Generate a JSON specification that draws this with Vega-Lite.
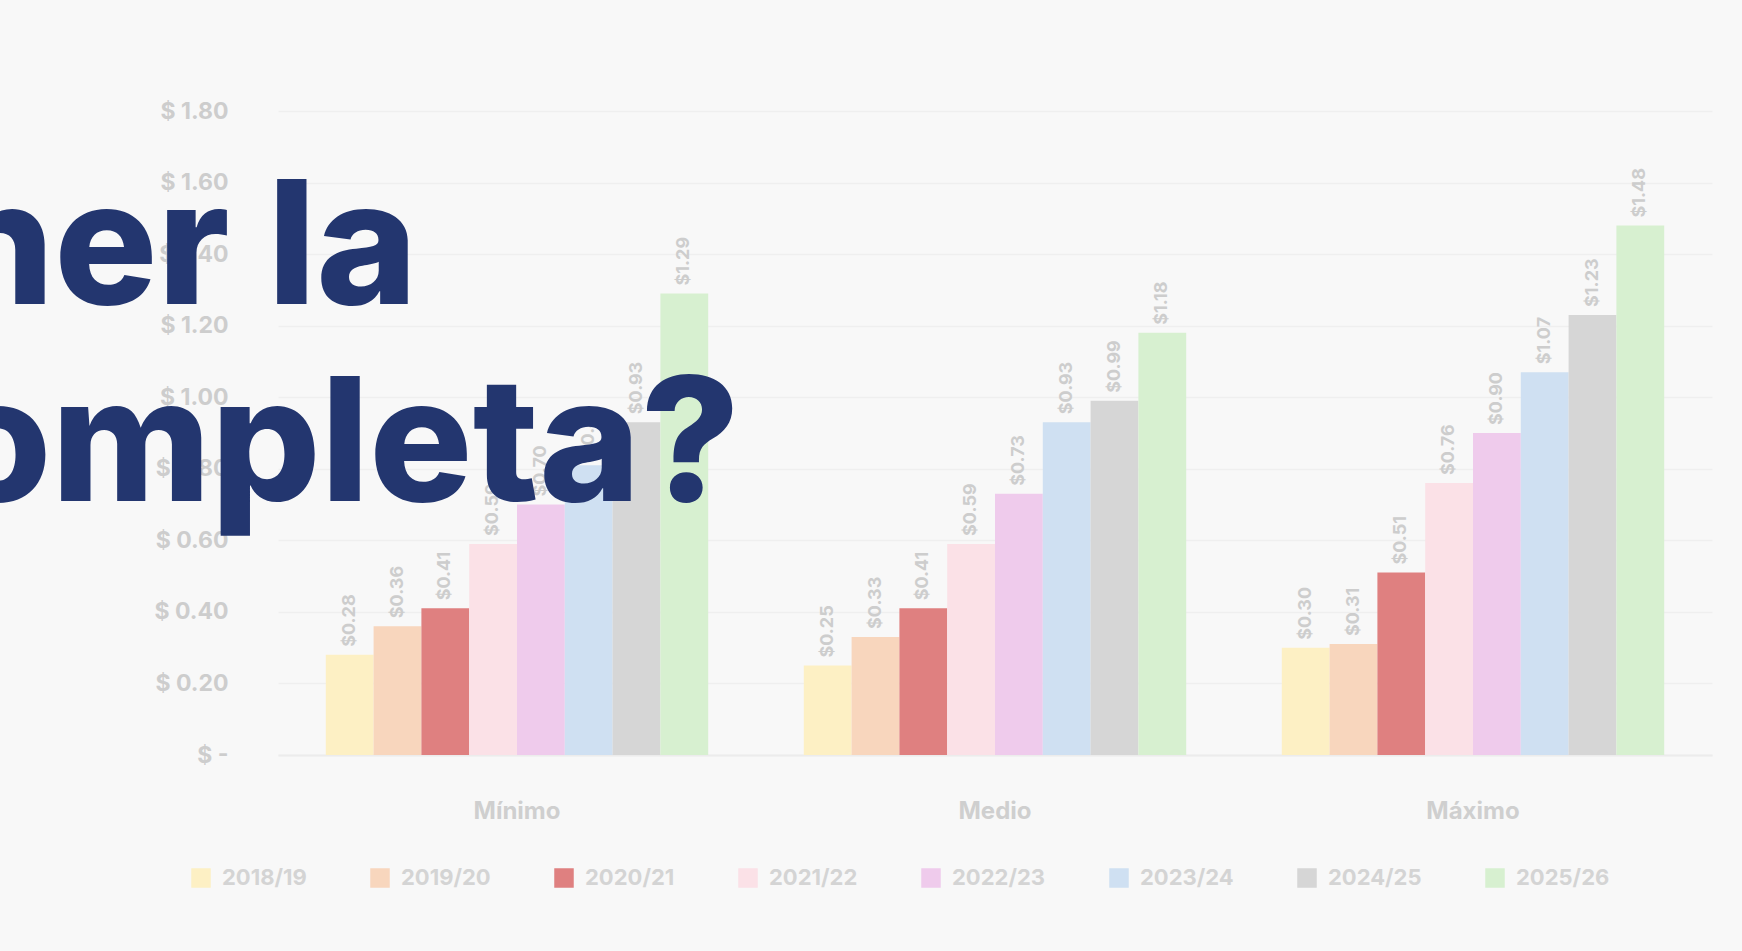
{
  "$schema": "https://vega.github.io/schema/vega-lite/v6.json",
  "width": 1434,
  "height": 644,
  "autosize": {"type": "none"},
  "padding": {"left": 278, "top": 111, "right": 30, "bottom": 196},
  "background": "#f8f8f8",
  "config": {"view": {"stroke": null}},
  "title": {
    "text": ["ner la", "ompleta?"],
    "orient": "top",
    "anchor": "start",
    "frame": "group",
    "offset": 0,
    "dx": -333,
    "dy": 437,
    "font": "Inter",
    "fontSize": 172,
    "fontWeight": 800,
    "lineHeight": 197,
    "color": "#23366f"
  },
  "data": {
    "values": [
      {"grupo": "Mínimo", "serie": "2018/19", "valor": 0.28},
      {"grupo": "Mínimo", "serie": "2019/20", "valor": 0.36},
      {"grupo": "Mínimo", "serie": "2020/21", "valor": 0.41},
      {"grupo": "Mínimo", "serie": "2021/22", "valor": 0.59},
      {"grupo": "Mínimo", "serie": "2022/23", "valor": 0.70},
      {"grupo": "Mínimo", "serie": "2023/24", "valor": 0.81},
      {"grupo": "Mínimo", "serie": "2024/25", "valor": 0.93},
      {"grupo": "Mínimo", "serie": "2025/26", "valor": 1.29},
      {"grupo": "Medio", "serie": "2018/19", "valor": 0.25},
      {"grupo": "Medio", "serie": "2019/20", "valor": 0.33},
      {"grupo": "Medio", "serie": "2020/21", "valor": 0.41},
      {"grupo": "Medio", "serie": "2021/22", "valor": 0.59},
      {"grupo": "Medio", "serie": "2022/23", "valor": 0.73},
      {"grupo": "Medio", "serie": "2023/24", "valor": 0.93},
      {"grupo": "Medio", "serie": "2024/25", "valor": 0.99},
      {"grupo": "Medio", "serie": "2025/26", "valor": 1.18},
      {"grupo": "Máximo", "serie": "2018/19", "valor": 0.30},
      {"grupo": "Máximo", "serie": "2019/20", "valor": 0.31},
      {"grupo": "Máximo", "serie": "2020/21", "valor": 0.51},
      {"grupo": "Máximo", "serie": "2021/22", "valor": 0.76},
      {"grupo": "Máximo", "serie": "2022/23", "valor": 0.90},
      {"grupo": "Máximo", "serie": "2023/24", "valor": 1.07},
      {"grupo": "Máximo", "serie": "2024/25", "valor": 1.23},
      {"grupo": "Máximo", "serie": "2025/26", "valor": 1.48}
    ]
  },
  "encoding": {
    "x": {
      "field": "grupo",
      "type": "nominal",
      "sort": ["Mínimo", "Medio", "Máximo"],
      "title": null,
      "scale": {"paddingInner": 0.2, "paddingOuter": 0.1},
      "axis": {
        "labelAngle": 0,
        "labelFont": "Inter",
        "labelFontSize": 24,
        "labelFontWeight": 700,
        "labelColor": "#cfcfcf",
        "labelPadding": 44,
        "ticks": false,
        "domain": true,
        "domainColor": "#ececec",
        "domainWidth": 2
      }
    },
    "xOffset": {
      "field": "serie",
      "type": "nominal",
      "sort": ["2018/19", "2019/20", "2020/21", "2021/22", "2022/23", "2023/24", "2024/25", "2025/26"],
      "scale": {"paddingInner": 0, "paddingOuter": 0}
    },
    "y": {
      "field": "valor",
      "type": "quantitative",
      "title": null,
      "scale": {"domain": [0, 1.8], "nice": false},
      "axis": {
        "values": [0, 0.2, 0.4, 0.6, 0.8, 1.0, 1.2, 1.4, 1.6, 1.8],
        "labelExpr": "datum.value == 0 ? '$   -' : '$ ' + format(datum.value, '.2f')",
        "labelFont": "Inter",
        "labelFontSize": 23,
        "labelFontWeight": 700,
        "labelColor": "#cdcdcd",
        "labelPadding": 50,
        "ticks": false,
        "domain": false,
        "gridColor": "#efefef",
        "gridWidth": 1.5
      }
    }
  },
  "layer": [
    {
      "mark": {"type": "bar"},
      "encoding": {
        "color": {
          "field": "serie",
          "type": "nominal",
          "sort": ["2018/19", "2019/20", "2020/21", "2021/22", "2022/23", "2023/24", "2024/25", "2025/26"],
          "scale": {
            "domain": ["2018/19", "2019/20", "2020/21", "2021/22", "2022/23", "2023/24", "2024/25", "2025/26"],
            "range": ["#fdf0c4", "#f8d6bd", "#df8080", "#fbe1e7", "#efcbec", "#cfe0f2", "#d6d6d6", "#d7f0d0"]
          },
          "legend": {
            "title": null,
            "orient": "none",
            "legendX": -88,
            "legendY": 756,
            "direction": "horizontal",
            "columns": 8,
            "columnPadding": 62,
            "symbolType": "square",
            "symbolSize": 380,
            "symbolStrokeWidth": 0,
            "labelFont": "Inter",
            "labelFontSize": 22,
            "labelFontWeight": 700,
            "labelColor": "#d4d4d4",
            "labelOffset": 10
          }
        }
      }
    },
    {
      "mark": {
        "type": "text",
        "angle": -90,
        "align": "left",
        "baseline": "middle",
        "dx": 8,
        "font": "Inter",
        "fontSize": 18,
        "fontWeight": 700,
        "color": "#cdcdcd"
      },
      "encoding": {
        "text": {"field": "valor", "type": "quantitative", "format": "$.2f"}
      }
    }
  ]
}
